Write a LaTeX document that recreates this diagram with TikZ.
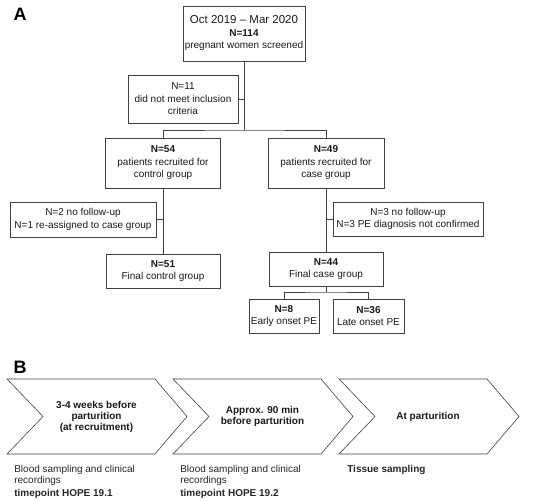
\documentclass[tikz,border=0pt]{standalone}
\usepackage{fontspec}
\setmainfont{Liberation Sans}
\usetikzlibrary{positioning}

\begin{document}
\begin{tikzpicture}[
    x=1pt,
    y=-1pt,
    line width=0.6pt,
    flowbox/.style={
        rectangle,
        draw=black!75,
        align=center,
        inner sep=0pt,
        text=black!90,
        font=\fontsize{10}{12.5}\selectfont
    },
    link/.style={
        draw=black!75
    },
    chevron/.style={
        draw=black!75,
        line join=miter
    },
    steptext/.style={
        align=center,
        inner sep=0pt,
        text=black!90,
        font=\bfseries\fontsize{10}{11}\selectfont
    },
    note/.style={
        anchor=north west,
        align=left,
        inner sep=0pt,
        text=black!85,
        font=\fontsize{10}{11}\selectfont
    },
    panel/.style={
        inner sep=0pt,
        font=\bfseries\fontsize{18}{18}\selectfont
    }
]

\useasboundingbox (0,0) rectangle (550,501);

% Panel labels
\node [panel] (labelA) at (20,14) {A};
\node [panel] (labelB) at (20,367) {B};

% Screening
\node [flowbox, minimum width=122pt, minimum height=55pt] (screened) at (244,33.5)
    {{\fontsize{11.5}{13}\selectfont Oct 2019 -- Mar 2020}\\\textbf{N=114}\\pregnant women screened};
\node [flowbox, minimum width=110pt, minimum height=48pt] (excluded) at (183,99)
    {N=11\\did not meet inclusion\\criteria};

\coordinate (split1) at (244,130);

% Recruited groups
\node [flowbox, minimum width=115pt, minimum height=50pt] (control) at (163,163)
    {\textbf{N=54}\\patients recruited for\\control group};
\node [flowbox, minimum width=116pt, minimum height=50pt] (case) at (326,163)
    {\textbf{N=49}\\patients recruited for\\case group};

% Drop-outs
\node [flowbox, minimum width=146pt, minimum height=35pt] (dropcontrol) at (83,219.5)
    {N=2 no follow-up\\N=1 re-assigned to case group};
\node [flowbox, minimum width=150pt, minimum height=34pt] (dropcase) at (408,219)
    {N=3 no follow-up\\N=3 PE diagnosis not confirmed};

% Final groups
\node [flowbox, minimum width=114pt, minimum height=34pt] (finalcontrol) at (163,271)
    {\textbf{N=51}\\Final control group};
\node [flowbox, minimum width=114pt, minimum height=34pt] (finalcase) at (326,269)
    {\textbf{N=44}\\Final case group};

\coordinate (split2) at (326,292);

% Subgroups
\node [flowbox, minimum width=70pt, minimum height=34pt] (early) at (284,316)
    {\textbf{N=8}\\Early onset PE};
\node [flowbox, minimum width=71pt, minimum height=34pt] (late) at (368.5,316)
    {\textbf{N=36}\\Late onset PE};

% Draw the connections
\draw [link] (screened) -- (split1);
\draw [link] (excluded.east) -- (excluded.east -| split1);
\draw [link] (control.north) |- (split1) -| (case.north);

\draw [link] (control) -- (finalcontrol);
\draw [link] (dropcontrol.east) -- (dropcontrol.east -| control.south);

\draw [link] (case) -- (finalcase);
\draw [link] (dropcase.west) -- (dropcase.west -| case.south);

\draw [link] (finalcase) -- (split2);
\draw [link] (early.north) |- (split2) -| (late.north);

% Timeline
\foreach \x in {7,173,339}
    \draw [chevron] (\x,379) -- ++(148,0) -- ++(32,37.5) -- ++(-32,37.5)
        -- ++(-148,0) -- ++(36,-37.5) -- cycle;

\node [steptext] (step1) at (96.5,417) {3-4 weeks before\\parturition\\(at recruitment)};
\node [steptext] (step2) at (262.5,416.5) {Approx. 90 min\\before parturition};
\node [steptext] (step3) at (428,417) {At parturition};

\node [note] (note1) at (14,465)
    {Blood sampling and clinical\\recordings\\[1.5pt]\textbf{timepoint HOPE 19.1}};
\node [note] (note2) at (180,465)
    {Blood sampling and clinical\\recordings\\[1.5pt]\textbf{timepoint HOPE 19.2}};
\node [note] (note3) at (347,465) {\textbf{Tissue sampling}};

\end{tikzpicture}
\end{document}
